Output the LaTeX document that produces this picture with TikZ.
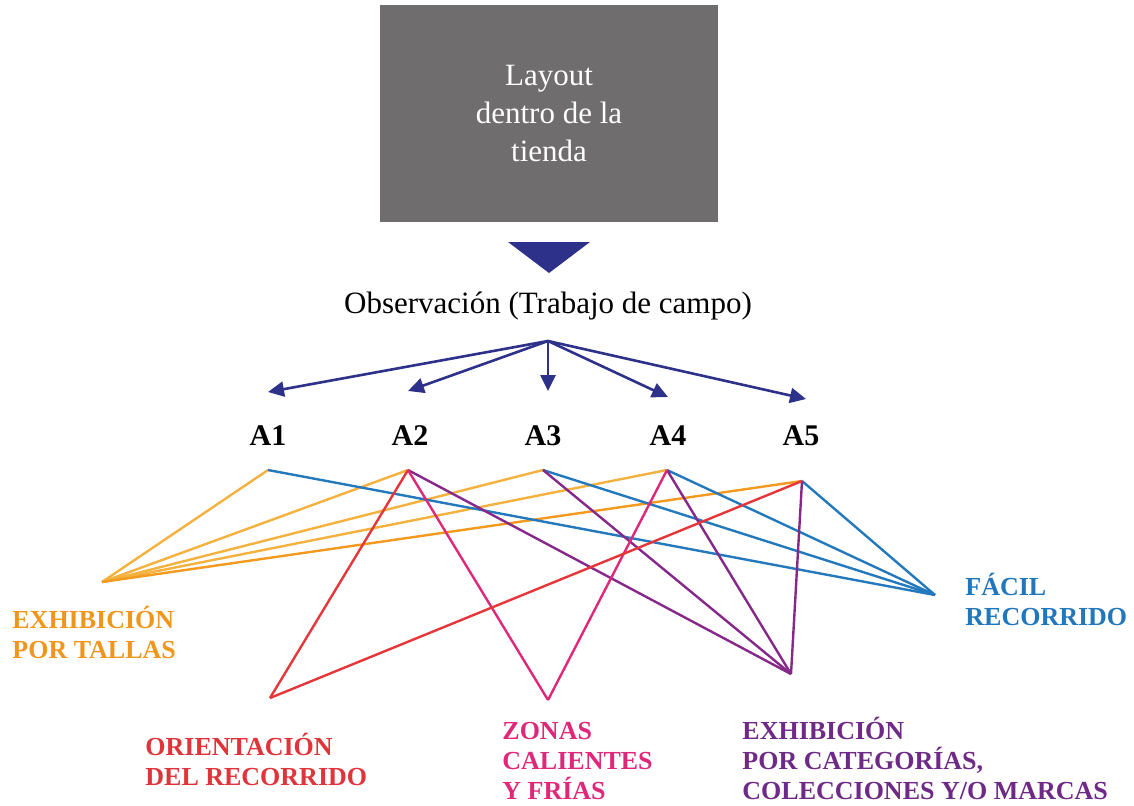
\documentclass[tikz,border=0pt]{standalone}
\usepackage{fontspec}
\setmainfont{Liberation Serif}
\usetikzlibrary{arrows.meta}
\definecolor{boxgray}{HTML}{6F6D6E}
\definecolor{navy}{HTML}{2E3189}
\definecolor{lOrange}{HTML}{F5B13E}
\definecolor{lOrangeD}{HTML}{F39A1E}
\definecolor{lBlue}{HTML}{2479BD}
\definecolor{lRed}{HTML}{E5363A}
\definecolor{lPink}{HTML}{E0287A}
\definecolor{lPurple}{HTML}{86288A}
\definecolor{tOrange}{HTML}{F0961C}
\definecolor{tRed}{HTML}{E0333A}
\definecolor{tPink}{HTML}{E0287A}
\definecolor{tPurple}{HTML}{6E2A86}
\definecolor{tBlue}{HTML}{2176BC}
\begin{document}
\begin{tikzpicture}[x=0.5pt,y=-0.5pt,
  arr/.style={draw=navy,line width=1.3pt,-{Triangle[length=8pt,width=7.5pt]}},
  alabel/.style={font=\fontsize{15}{18}\selectfont\bfseries,inner sep=0pt},
  lab/.style={font=\fontsize{13}{15}\selectfont\bfseries,align=left,inner sep=0pt,anchor=base west},
  link/.style={line width=1.2pt}]
\useasboundingbox (0,0) rectangle (1134,805);
\node[fill=boxgray,minimum width=169pt,minimum height=108.5pt,inner sep=0pt,
      text=white,align=center,font=\fontsize{15.5}{19}\selectfont] (box) at (549,113.5)
      {Layout\\dentro de la\\tienda};
\fill[navy] (508,242) -- (590,242) -- (549,273) -- cycle;
\node[font=\fontsize{15.5}{19}\selectfont,inner sep=0pt] (obs) at (548,306) {Observación (Trabajo de campo)};
\coordinate (o) at (548,341);
\coordinate (t1) at (268,392);
\coordinate (t2) at (408,391);
\coordinate (t3) at (548,391);
\coordinate (t4) at (668,397);
\coordinate (t5) at (806,399);
\foreach \i in {1,...,5} \draw[arr] (o) -- (t\i);
\node[alabel] (A1) at (268,436) {A1};
\node[alabel] (A2) at (410,436) {A2};
\node[alabel] (A3) at (543,436) {A3};
\node[alabel] (A4) at (668,436) {A4};
\node[alabel] (A5) at (801,436) {A5};
\coordinate (p1) at (268,470);
\coordinate (p2) at (408,470);
\coordinate (p3) at (543,470);
\coordinate (p4) at (667,470);
\coordinate (p5) at (802,481);
\coordinate (T) at (102,582);
\coordinate (R) at (935,595);
\coordinate (O) at (270,698);
\coordinate (Z) at (548,700);
\coordinate (C) at (791,674);
% orange
\foreach \p in {p1,p2,p3,p4} \draw[link,lOrange] (T) -- (\p);
\draw[link,lOrangeD] (T) -- (p5);
% blue
\foreach \p in {p1,p3,p4,p5} \draw[link,lBlue] (R) -- (\p);
% purple
\foreach \p in {p2,p3,p4,p5} \draw[link,lPurple] (C) -- (\p);
% pink
\foreach \p in {p2,p4} \draw[link,lPink] (Z) -- (\p);
% red
\foreach \p in {p2,p5} \draw[link,lRed] (O) -- (\p);
\node[lab,text=tOrange] (lT) at (12,658) {EXHIBICIÓN\\POR TALLAS};
\node[lab,text=tRed] (lO) at (145,785) {ORIENTACIÓN\\DEL RECORRIDO};
\node[lab,text=tPink] (lZ) at (502,799) {ZONAS\\CALIENTES\\Y FRÍAS};
\node[lab,text=tPurple] (lC) at (742,799) {EXHIBICIÓN\\POR CATEGORÍAS,\\COLECCIONES Y/O MARCAS};
\node[lab,text=tBlue] (lR) at (965,625) {FÁCIL\\RECORRIDO};
\end{tikzpicture}
\end{document}
